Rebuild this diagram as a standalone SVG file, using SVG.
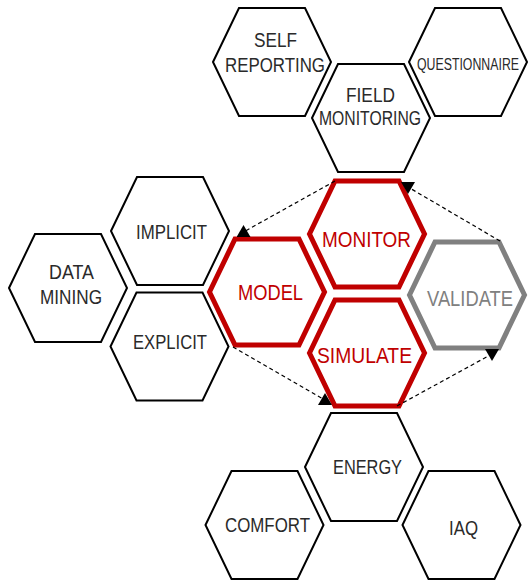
<svg xmlns="http://www.w3.org/2000/svg" xmlns:xlink="http://www.w3.org/1999/xlink" width="528" height="581" viewBox="0 0 528 581">
  <style>
    .hex { fill: #ffffff; stroke: #000000; stroke-width: 2; stroke-linejoin: miter; }
    .hexR { fill: #ffffff; stroke: #c00000; stroke-width: 5; stroke-linejoin: miter; }
    .hexG { fill: #ffffff; stroke: #808080; stroke-width: 5; stroke-linejoin: miter; }
    text { font-family: "Liberation Sans", Arial, sans-serif; text-anchor: middle; }
    .t { font-size: 21px; fill: #2a2a2a; }
    .ts { font-size: 16px; fill: #2a2a2a; }
    .tr { font-size: 22px; fill: #c00000; }
    .tg { font-size: 22px; fill: #808080; }
    .conn { stroke: #000000; stroke-width: 1.2; stroke-dasharray: 4 3; fill: none; }
  </style>
  <defs>
    <polygon id="hexShape" points="-59,0 -33,-54 33,-54 59,0 33,54 -33,54"/>
    <polygon id="hexShapeB" points="-57.5,0 -32,-53 32,-53 57.5,0 32,53 -32,53"/>
    <marker id="arrUp" markerUnits="userSpaceOnUse" markerWidth="14" markerHeight="12" viewBox="0 0 14 12" refX="7" refY="7" orient="0">
      <path d="M0,12 L7,0 L14,12 Z" fill="#000000"/>
    </marker>
    <marker id="arrDown" markerUnits="userSpaceOnUse" markerWidth="14" markerHeight="12" viewBox="0 0 14 12" refX="7" refY="5" orient="0">
      <path d="M0,0 L14,0 L7,12 Z" fill="#000000"/>
    </marker>
  </defs>

  <g id="self-reporting">
    <use xlink:href="#hexShape" href="#hexShape" class="hex" transform="translate(272,62)"/>
    <text class="t" x="275.5" y="47" textLength="43" lengthAdjust="spacingAndGlyphs">SELF</text>
    <text class="t" x="275" y="72" textLength="100" lengthAdjust="spacingAndGlyphs">REPORTING</text>
  </g>
  <g id="questionnaire">
    <use xlink:href="#hexShape" href="#hexShape" class="hex" transform="translate(468,62)"/>
    <text class="ts" x="468" y="70" textLength="102" lengthAdjust="spacingAndGlyphs">QUESTIONNAIRE</text>
  </g>
  <g id="field-monitoring">
    <use xlink:href="#hexShape" href="#hexShape" class="hex" transform="translate(371,118)"/>
    <text class="t" x="370.5" y="102" textLength="49" lengthAdjust="spacingAndGlyphs">FIELD</text>
    <text class="t" x="370" y="125" textLength="102" lengthAdjust="spacingAndGlyphs">MONITORING</text>
  </g>
  <g id="implicit">
    <use xlink:href="#hexShape" href="#hexShape" class="hex" transform="translate(170,231)"/>
    <text class="t" x="171.5" y="239" textLength="71" lengthAdjust="spacingAndGlyphs">IMPLICIT</text>
  </g>
  <g id="data-mining">
    <use xlink:href="#hexShape" href="#hexShape" class="hex" transform="translate(68,288)"/>
    <text class="t" x="71.5" y="279" textLength="45" lengthAdjust="spacingAndGlyphs">DATA</text>
    <text class="t" x="71" y="304" textLength="62" lengthAdjust="spacingAndGlyphs">MINING</text>
  </g>
  <g id="explicit">
    <use xlink:href="#hexShape" href="#hexShape" class="hex" transform="translate(169.5,346.5)"/>
    <text class="t" x="170" y="349" textLength="74" lengthAdjust="spacingAndGlyphs">EXPLICIT</text>
  </g>
  <g id="monitor">
    <use xlink:href="#hexShapeB" href="#hexShapeB" class="hexR" transform="translate(367,234)"/>
    <text class="tr" x="366.5" y="247" textLength="89" lengthAdjust="spacingAndGlyphs">MONITOR</text>
  </g>
  <g id="model">
    <use xlink:href="#hexShapeB" href="#hexShapeB" class="hexR" transform="translate(267,292)"/>
    <text class="tr" x="270.5" y="300" textLength="65" lengthAdjust="spacingAndGlyphs">MODEL</text>
  </g>
  <g id="simulate">
    <use xlink:href="#hexShapeB" href="#hexShapeB" class="hexR" transform="translate(367,353)"/>
    <text class="tr" x="364.5" y="363" textLength="95" lengthAdjust="spacingAndGlyphs">SIMULATE</text>
  </g>
  <g id="validate">
    <use xlink:href="#hexShapeB" href="#hexShapeB" class="hexG" transform="translate(467,295)"/>
    <text class="tg" x="470" y="306" textLength="86" lengthAdjust="spacingAndGlyphs">VALIDATE</text>
  </g>
  <g id="energy">
    <use xlink:href="#hexShape" href="#hexShape" class="hex" transform="translate(364,467)"/>
    <text class="t" x="367.5" y="474" textLength="69" lengthAdjust="spacingAndGlyphs">ENERGY</text>
  </g>
  <g id="comfort">
    <use xlink:href="#hexShape" href="#hexShape" class="hex" transform="translate(264.5,525)"/>
    <text class="t" x="267.5" y="532" textLength="85" lengthAdjust="spacingAndGlyphs">COMFORT</text>
  </g>
  <g id="iaq">
    <use xlink:href="#hexShape" href="#hexShape" class="hex" transform="translate(461.5,525)"/>
    <text class="t" x="463.5" y="535" textLength="29" lengthAdjust="spacingAndGlyphs">IAQ</text>
  </g>

  <g id="connectors">
    <line class="conn" x1="335" y1="181" x2="243.5" y2="232" marker-end="url(#arrUp)"/>
    <line class="conn" x1="500" y1="241" x2="408" y2="187" marker-end="url(#arrDown)"/>
    <line class="conn" x1="233" y1="347" x2="325" y2="400" marker-end="url(#arrUp)"/>
    <line class="conn" x1="397" y1="406" x2="492" y2="354" marker-end="url(#arrDown)"/>
  </g>
</svg>
